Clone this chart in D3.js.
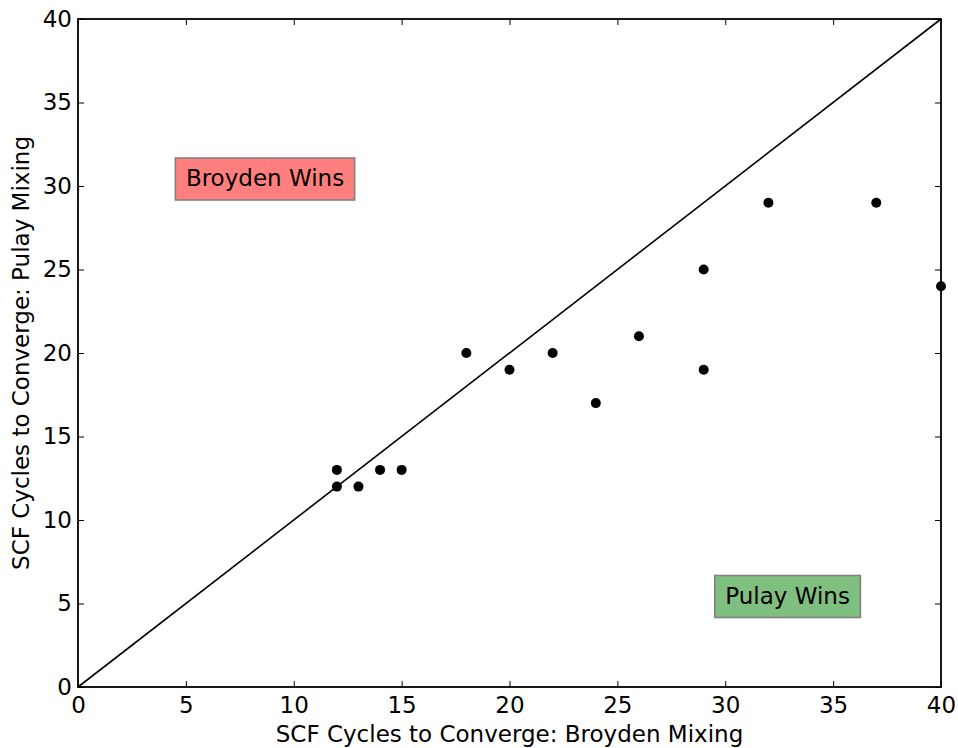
<!DOCTYPE html>
<html>
<head>
<meta charset="utf-8">
<script src="https://cdn.jsdelivr.net/npm/d3@7"></script>
<style>
  body { margin: 0; background: #fff; }
  text { font-family: "DejaVu Sans", sans-serif; }
</style>
</head>
<body>
<script>
// SCF cycles: Broyden (x) vs Pulay (y)
const broyden = [12, 12, 13, 14, 15, 18, 20, 22, 24, 26, 29, 29, 32, 37, 40];
const pulay   = [13, 12, 12, 13, 13, 20, 19, 20, 17, 21, 25, 19, 29, 29, 24];
const ticks = [0, 5, 10, 15, 20, 25, 30, 35, 40];
const notes = [
    { label: 'Broyden Wins', x: 5, y: 30, fill: '#ff7f7f' },
    { label: 'Pulay Wins', x: 30, y: 5, fill: '#7fbf7f' }
];

const width = 958, height = 748;
const margin = { top: 19, right: 17, bottom: 61, left: 78 };
const fontSize = 23;

const svg = d3.select('body')
    .append('svg')
    .attr('width', width)
    .attr('height', height);

const x = d3.scaleLinear()
    .domain([0, 40])
    .range([margin.left, width - margin.right]);

const y = d3.scaleLinear()
    .domain([0, 40])
    .range([height - margin.bottom, margin.top]);

// diagonal y = x
svg.append('line')
    .attr('x1', x(0)).attr('y1', y(0))
    .attr('x2', x(40)).attr('y2', y(40))
    .attr('stroke', '#000')
    .attr('stroke-width', 1.6);

// points
svg.selectAll('circle')
    .data(broyden)
    .enter()
    .append('circle')
    .attr('cx', d => x(d))
    .attr('cy', (d, i) => y(pulay[i]))
    .attr('r', 5)
    .attr('fill', '#000');

// annotation boxes
notes.forEach(n => {
    const g = svg.append('g');
    const t = g.append('text')
        .attr('x', x(n.x))
        .attr('y', y(n.y))
        .attr('font-size', fontSize)
        .text(n.label);
    const bb = t.node().getBBox();
    g.insert('rect', 'text')
        .attr('x', bb.x - 10.5)
        .attr('y', bb.y - 7)
        .attr('width', bb.width + 21)
        .attr('height', bb.height + 16)
        .attr('fill', n.fill)
        .attr('stroke', '#808080')
        .attr('stroke-width', 1.6);
});

// axes, ticks pointing inward on all four sides
const tickLen = 6;
const styleAxis = g => {
    g.select('.domain').remove();
    g.selectAll('.tick line').attr('stroke', '#000').attr('stroke-width', 1);
    g.selectAll('.tick text')
        .attr('font-size', fontSize)
        .attr('font-family', '"DejaVu Sans", sans-serif')
        .attr('fill', '#000');
};

svg.append('g')
    .attr('transform', `translate(0,${y(0)})`)
    .call(d3.axisBottom(x).tickValues(ticks).tickSizeInner(-tickLen).tickSizeOuter(0).tickPadding(10))
    .call(styleAxis);

svg.append('g')
    .attr('transform', `translate(${x(0)},0)`)
    .call(d3.axisLeft(y).tickValues(ticks).tickSizeInner(-tickLen).tickSizeOuter(0).tickPadding(6))
    .call(styleAxis);

svg.append('g')
    .attr('transform', `translate(0,${y(40)})`)
    .call(d3.axisTop(x).tickValues(ticks).tickSizeInner(-tickLen).tickSizeOuter(0).tickFormat(''))
    .call(styleAxis);

svg.append('g')
    .attr('transform', `translate(${x(40)},0)`)
    .call(d3.axisRight(y).tickValues(ticks).tickSizeInner(-tickLen).tickSizeOuter(0).tickFormat(''))
    .call(styleAxis);

// frame
svg.append('rect')
    .attr('x', x(0)).attr('y', y(40))
    .attr('width', x(40) - x(0))
    .attr('height', y(0) - y(40))
    .attr('fill', 'none')
    .attr('stroke', '#000')
    .attr('stroke-width', 1.8);

// axis labels
svg.append('text')
    .attr('x', (x(0) + x(40)) / 2)
    .attr('y', 742)
    .attr('text-anchor', 'middle')
    .attr('font-size', fontSize)
    .text('SCF Cycles to Converge: Broyden Mixing');

svg.append('text')
    .attr('transform', `translate(29,${(y(0) + y(40)) / 2}) rotate(-90)`)
    .attr('text-anchor', 'middle')
    .attr('font-size', fontSize)
    .text('SCF Cycles to Converge: Pulay Mixing');
</script>
</body>
</html>
